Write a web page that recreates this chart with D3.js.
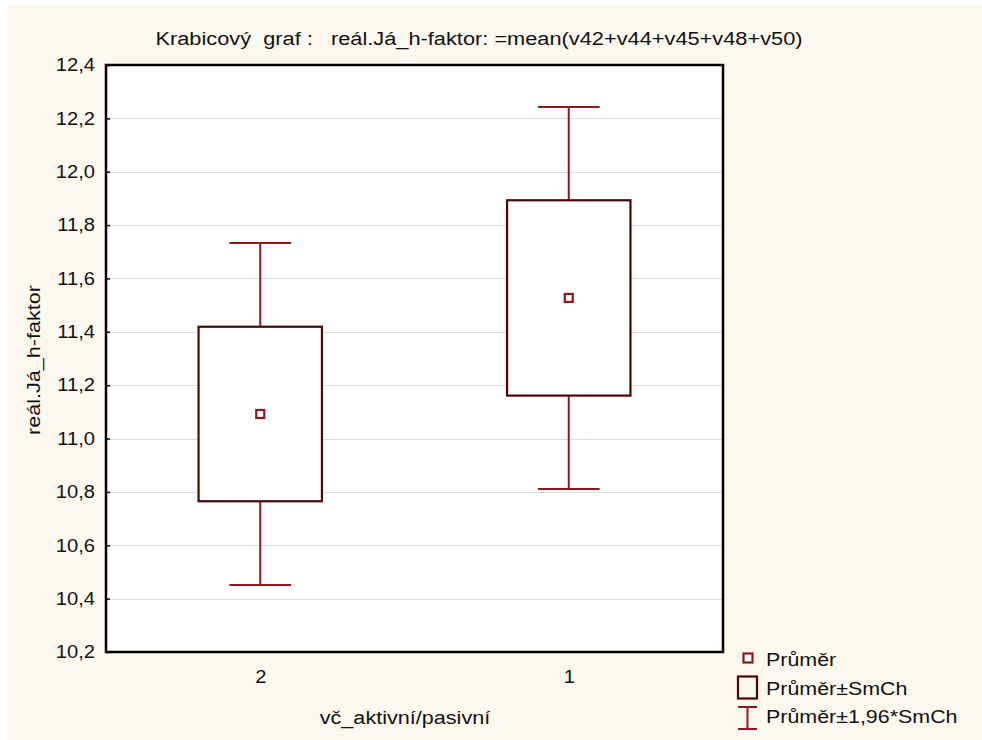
<!DOCTYPE html>
<html>
<head>
<meta charset="utf-8">
<script src="https://cdn.jsdelivr.net/npm/d3@7"></script>
<style>
html,body{margin:0;padding:0;background:#ffffff;}
svg{display:block;font-family:"Liberation Sans",Arial,sans-serif;}
svg text{white-space:pre;}
</style>
</head>
<body>
<svg id="chart" width="982" height="740"></svg>
<script>
// ---- data ----
const categories = ["2", "1"];
const means      = [11.092, 11.527];
const boxLow     = [10.765, 11.161];
const boxHigh    = [11.419, 11.893];
const whiskLow   = [10.451, 10.811];
const whiskHigh  = [11.733, 12.243];
const yTicks     = [10.2, 10.4, 10.6, 10.8, 11.0, 11.2, 11.4, 11.6, 11.8, 12.0, 12.2, 12.4];
const titleText  = "Krabicový  graf :   reál.Já_h-faktor: =mean(v42+v44+v45+v48+v50)";
const xTitle     = "vč_aktivní/pasivní";
const yTitle     = "reál.Já_h-faktor";
const legendLabels = ["Průměr", "Průměr±SmCh", "Průměr±1,96*SmCh"];

// ---- layout ----
const svg = d3.select("#chart");
const W = 982, H = 740;
const plot = {left: 106, top: 65, right: 723, bottom: 652};
const boxColor = "#4a0505";
const whiskColor = "#8b1a1f";
const meanColor = "#8b1a1f";
const FS = 18;

function stretch(sel, k) {
  sel.each(function () {
    const L = this.getComputedTextLength();
    d3.select(this).attr("textLength", L * k).attr("lengthAdjust", "spacingAndGlyphs");
  });
}

svg.append("rect").attr("x", 8).attr("y", 5).attr("width", W - 8).attr("height", H - 5).attr("fill", "#fdf8ee");

const x = d3.scalePoint().domain(categories).range([plot.left, plot.right]).padding(0.5);
const y = d3.scaleLinear().domain([10.2, 12.4]).range([plot.bottom, plot.top]);
const step = x.step();
const boxW = step * 0.4;
const capW = boxW * 0.5;

svg.append("rect").attr("x", plot.left).attr("y", plot.top)
  .attr("width", plot.right - plot.left).attr("height", plot.bottom - plot.top)
  .attr("fill", "#ffffff");

// gridlines
svg.append("g").selectAll("line").data(yTicks.slice(1, -1)).join("line")
  .attr("x1", plot.left).attr("x2", plot.right)
  .attr("y1", d => Math.round(y(d)) + 0.5).attr("y2", d => Math.round(y(d)) + 0.5)
  .attr("stroke", "#dcdcdc").attr("stroke-width", 1);

const fmt = d => d3.format(".1f")(d).replace(".", ",");

// y axis
const yAxis = svg.append("g").attr("transform", `translate(${plot.left},0)`)
  .call(d3.axisLeft(y).tickValues(yTicks).tickFormat(fmt).tickSizeInner(-4).tickSizeOuter(0).tickPadding(11));
yAxis.select(".domain").remove();
yAxis.selectAll(".tick line").attr("stroke", "#000").attr("stroke-width", 1.5);
yAxis.selectAll("text").attr("font-size", FS).attr("fill", "#111").attr("font-family", "Liberation Sans, Arial, sans-serif")
  .call(stretch, 1.12);

// x axis
const xAxis = svg.append("g").attr("transform", `translate(0,${plot.bottom})`)
  .call(d3.axisBottom(x).tickSizeInner(0).tickSizeOuter(0).tickPadding(18));
xAxis.select(".domain").remove();
xAxis.selectAll("text").attr("font-size", FS).attr("fill", "#111").attr("font-family", "Liberation Sans, Arial, sans-serif")
  .call(stretch, 1.12);

// whiskers and boxes
const g = svg.append("g");
categories.forEach((c, i) => {
  const cx = x(c);
  g.append("line").attr("x1", cx).attr("x2", cx).attr("y1", y(whiskHigh[i])).attr("y2", y(boxHigh[i]))
    .attr("stroke", whiskColor).attr("stroke-width", 2);
  g.append("line").attr("x1", cx).attr("x2", cx).attr("y1", y(boxLow[i])).attr("y2", y(whiskLow[i]))
    .attr("stroke", whiskColor).attr("stroke-width", 2);
  g.append("line").attr("x1", cx - capW / 2).attr("x2", cx + capW / 2).attr("y1", y(whiskHigh[i])).attr("y2", y(whiskHigh[i]))
    .attr("stroke", whiskColor).attr("stroke-width", 2);
  g.append("line").attr("x1", cx - capW / 2).attr("x2", cx + capW / 2).attr("y1", y(whiskLow[i])).attr("y2", y(whiskLow[i]))
    .attr("stroke", whiskColor).attr("stroke-width", 2);
  g.append("rect").attr("x", cx - boxW / 2).attr("y", y(boxHigh[i]))
    .attr("width", boxW).attr("height", y(boxLow[i]) - y(boxHigh[i]))
    .attr("fill", "#fff").attr("stroke", boxColor).attr("stroke-width", 2.2);
  g.append("rect").attr("x", cx - 4).attr("y", y(means[i]) - 4).attr("width", 8).attr("height", 8)
    .attr("fill", "#fff").attr("stroke", meanColor).attr("stroke-width", 2.2);
});

// frame
svg.append("rect").attr("x", plot.left).attr("y", plot.top)
  .attr("width", plot.right - plot.left).attr("height", plot.bottom - plot.top)
  .attr("fill", "none").attr("stroke", "#000").attr("stroke-width", 2.5);

// titles
svg.append("text").attr("x", 479).attr("y", 45).attr("text-anchor", "middle")
  .attr("font-size", FS).attr("fill", "#111").text(titleText).call(stretch, 1.21);
svg.append("text").attr("x", 405).attr("y", 724).attr("text-anchor", "middle")
  .attr("font-size", FS).attr("fill", "#111").text(xTitle).call(stretch, 1.2);
svg.append("text").attr("transform", "translate(40,360) rotate(-90)").attr("text-anchor", "middle")
  .attr("font-size", FS).attr("fill", "#111").text(yTitle).call(stretch, 1.2);

// legend
const lg = svg.append("g");
const ly = [658, 688, 718];
const lBase = [666, 695, 723];
lg.append("rect").attr("x", 743.5).attr("y", ly[0] - 4.5).attr("width", 9).attr("height", 9)
  .attr("fill", "#fff").attr("stroke", meanColor).attr("stroke-width", 2.2);
lg.append("rect").attr("x", 738).attr("y", ly[1] - 11.5).attr("width", 19).attr("height", 22)
  .attr("fill", "none").attr("stroke", boxColor).attr("stroke-width", 2.2);
lg.append("line").attr("x1", 747.5).attr("x2", 747.5).attr("y1", ly[2] - 11).attr("y2", ly[2] + 11)
  .attr("stroke", whiskColor).attr("stroke-width", 2);
lg.append("line").attr("x1", 738).attr("x2", 757).attr("y1", ly[2] - 11).attr("y2", ly[2] - 11)
  .attr("stroke", whiskColor).attr("stroke-width", 2);
lg.append("line").attr("x1", 738).attr("x2", 757).attr("y1", ly[2] + 11).attr("y2", ly[2] + 11)
  .attr("stroke", whiskColor).attr("stroke-width", 2);
legendLabels.forEach((t, i) => {
  lg.append("text").attr("x", 766).attr("y", lBase[i]).attr("font-size", FS).attr("fill", "#111").text(t)
    .call(stretch, 1.19);
});
</script>
</body>
</html>
